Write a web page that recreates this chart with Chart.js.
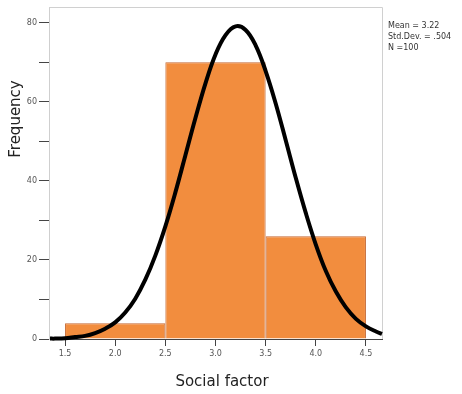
<!DOCTYPE html>
<html>
<head>
<meta charset="utf-8">
<script src="https://cdn.jsdelivr.net/npm/chart.js@4"></script>
<style>
  html, body { margin: 0; padding: 0; background: #fff; }
  #wrap { width: 462px; height: 394px; position: relative; }
</style>
</head>
<body>
<div id="wrap"><canvas id="chart" width="462" height="394"></canvas></div>
<script>
// histogram bins (centre of each 1.0 wide bin) and counts
const binCenters = [2.0, 3.0, 4.0];
const binCounts = [4, 70, 26];

// normal curve
const curveX = [1.35, 1.4, 1.5, 1.6, 1.7, 1.8, 1.9, 2.0, 2.1, 2.2, 2.3, 2.4, 2.5, 2.6, 2.7, 2.8, 2.9, 3.0,
  3.1, 3.2, 3.3, 3.4, 3.5, 3.6, 3.7, 3.8, 3.9, 4.0, 4.1, 4.2, 4.3, 4.4, 4.5, 4.6, 4.66];
const curveY = [0.1, 0.1, 0.2, 0.5, 0.8, 1.5, 2.6, 4.2, 6.7, 10.2, 15.0, 21.1, 28.5, 37.1, 46.5, 55.9, 64.7, 72.0,
  76.9, 79.1, 78.2, 74.3, 67.8, 59.6, 50.3, 40.8, 31.9, 23.9, 17.2, 12.0, 8.0, 5.1, 3.2, 1.9, 1.3];

const xTicks = [1.5, 2.0, 2.5, 3.0, 3.5, 4.0, 4.5];
const yTicks = [0, 10, 20, 30, 40, 50, 60, 70, 80];
const statsLines = ['Mean = 3.22', 'Std.Dev. = .504', 'N =100'];

const fontFam = "'DejaVu Sans', sans-serif";

const extras = {
  id: 'extras',
  beforeDatasetsDraw(chart) {
    const ctx = chart.ctx, a = chart.chartArea;
    ctx.save();
    ctx.strokeStyle = '#d0d0d0';
    ctx.lineWidth = 1;
    ctx.beginPath();
    ctx.moveTo(a.left, a.top + 0.5);
    ctx.lineTo(a.right + 0.5, a.top + 0.5);
    ctx.lineTo(a.right + 0.5, a.bottom);
    ctx.stroke();
    ctx.restore();
  },
  afterDraw(chart) {
    const ctx = chart.ctx, a = chart.chartArea;
    ctx.save();
    ctx.fillStyle = '#222';
    ctx.font = '15px ' + fontFam;
    ctx.textAlign = 'center';
    ctx.textBaseline = 'middle';
    ctx.fillText('Social factor', 222, 382);
    ctx.translate(16, 119);
    ctx.rotate(-Math.PI / 2);
    ctx.fillText('Frequency', 0, 0);
    ctx.restore();

    ctx.save();
    ctx.fillStyle = '#333';
    ctx.font = '8px ' + fontFam;
    ctx.textBaseline = 'middle';
    statsLines.forEach((s, i) => ctx.fillText(s, a.right + 6, 26 + i * 11));
    ctx.restore();
  }
};

const config = {
  type: 'bar',
  data: {
    datasets: [
      {
        type: 'line',
        data: curveX.map((x, i) => ({ x: x, y: curveY[i] })),
        borderColor: '#000',
        borderWidth: 4,
        pointRadius: 0,
        tension: 0.4,
        fill: false,
        order: 0,
        clip: false
      },
      {
        type: 'bar',
        data: binCenters.map((x, i) => ({ x: x, y: binCounts[i] })),
        backgroundColor: 'rgb(242,141,62)',
        borderColor: 'rgb(196,104,50)',
        borderWidth: 1,
        barPercentage: 2, // ruler picks the 0.5 tick spacing, bins are 1.0 wide
        categoryPercentage: 1,
        order: 1
      }
    ]
  },
  options: {
    responsive: false,
    animation: false,
    layout: { padding: { top: 7, right: 80, left: 0, bottom: 0 } },
    plugins: { legend: { display: false }, tooltip: { enabled: false } },
    scales: {
      x: {
        type: 'linear',
        min: 1.34,
        max: 4.66,
        offset: false,
        afterBuildTicks: s => { s.ticks = xTicks.map(v => ({ value: v })); },
        afterFit: s => { s.height = 55; },
        grid: { offset: false, drawOnChartArea: false, tickLength: 7, color: '#444' },
        border: { color: '#444' },
        ticks: {
          callback: v => v.toFixed(1),
          color: '#555',
          font: { size: 8, family: fontFam },
          padding: 3,
          maxRotation: 0
        }
      },
      y: {
        min: 0,
        max: 84,
        afterBuildTicks: s => { s.ticks = yTicks.map(v => ({ value: v })); },
        afterFit: s => { s.width = 49; },
        grid: { drawOnChartArea: false, tickLength: 10, color: '#444' },
        border: { color: '#cfcfcf' },
        ticks: {
          callback: v => (v % 20 === 0 ? String(v) : ''),
          color: '#555',
          font: { size: 8, family: fontFam },
          padding: 2
        }
      }
    }
  },
  plugins: [extras]
};

new Chart(document.getElementById('chart').getContext('2d'), config);
</script>
</body>
</html>
